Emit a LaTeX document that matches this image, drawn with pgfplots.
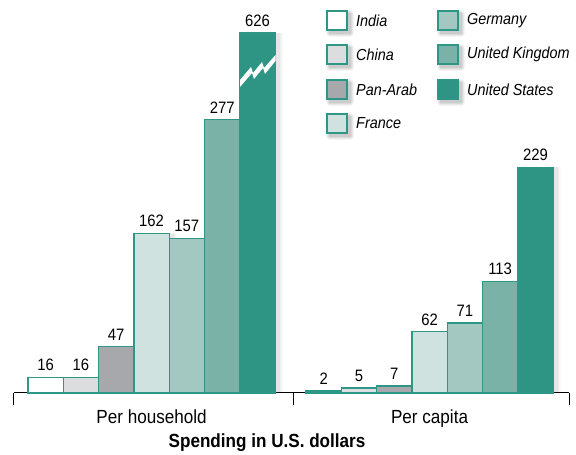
\documentclass[border=0pt]{standalone}
\usepackage{pgfplots}
\usepackage{pgfplotstable}
\pgfplotsset{compat=1.18}
\usepackage{fontspec}
\setmainfont{Liberation Sans}[FakeStretch=0.9]
\definecolor{tealb}{HTML}{2E9687}
\definecolor{cIndia}{HTML}{FFFFFF}
\definecolor{cChina}{HTML}{DCDDDE}
\definecolor{cArab}{HTML}{A7A8AC}
\definecolor{cFrance}{HTML}{D0E2DF}
\definecolor{cGermany}{HTML}{A2C8C1}
\definecolor{cUK}{HTML}{7BB2A8}
\definecolor{cUS}{HTML}{2E9585}
\pgfplotstableread{
x y
45.65 16
80.95 16
116.25 47
151.55 162
186.85 157
222.15 277
257.45 365.1
323.65 2
358.95 5
394.25 7
429.55 62
464.85 71
500.15 113
535.45 229
}\allbars
\newcommand{\legbox}[4]{% x y color text
  \foreach \s/\o in {4/0.04,3/0.05,2/0.06,1/0.07}{
    \fill[black,opacity=\o,rounded corners=\s pt] (#1+3-\s,#2+3-\s) rectangle (#1+23+\s,#2+22+\s);}
  \filldraw[fill=#3,draw=tealb,line width=1.2pt] (#1,#2) rectangle (#1+20,#2+19);
  \node[anchor=west,inner sep=0pt,font=\fontsize{16}{16}\selectfont\itshape] at (#1+29,#2+9.5) {#4};
}
\begin{document}
\begin{tikzpicture}
\begin{axis}[
  at={(0,0)}, anchor=south west,
  scale only axis, width=555pt, height=393pt,
  xmin=14, xmax=569, ymin=0, ymax=398.6,
  clip=false,
  axis x line*=bottom, axis y line=none,
  axis line style={black, line width=1pt},
  ybar, bar width=35.3, bar shift=0pt,
  xtick={14,293,569}, xticklabels={},
  tick align=outside, major tick length=12pt,
  tick style={black, line width=1pt},
  extra x ticks={151.55,429.55},
  extra x tick labels={Per household, Per capita},
  extra x tick style={major tick length=0pt,
    xticklabel style={anchor=base, yshift=-31pt, font=\fontsize{19}{19}\selectfont}},
  /pgf/number format/assume math mode=true,
]
% soft shadows
\addplot[forget plot, draw=none, fill=black, fill opacity=0.025, bar width=43, bar shift=4, nodes near coords={}] table[x=x,y=y] {\allbars};
\addplot[forget plot, draw=none, fill=black, fill opacity=0.035, bar width=40, bar shift=4, nodes near coords={}] table[x=x,y=y] {\allbars};
\addplot[forget plot, draw=none, fill=black, fill opacity=0.045, bar width=37, bar shift=4, nodes near coords={}] table[x=x,y=y] {\allbars};
\pgfplotsset{
  point meta=explicit,
  nodes near coords={\pgfmathprintnumber{\pgfplotspointmeta}},
  every node near coord/.append style={font=\fontsize{16.5}{16.5}\selectfont, inner sep=0pt, anchor=south, yshift=6pt, black},
}
\addplot[fill=cIndia, draw=tealb, line width=1.2pt] table[x=x,y=y,meta=lab] {
x y lab
45.65 16 16
323.65 2 2
};
\addplot[fill=cChina, draw=tealb, line width=1.2pt] table[x=x,y=y,meta=lab] {
x y lab
80.95 16 16
358.95 5 5
};
\addplot[fill=cArab, draw=tealb, line width=1.2pt] table[x=x,y=y,meta=lab] {
x y lab
116.25 47 47
394.25 7 7
};
\addplot[fill=cFrance, draw=tealb, line width=1.2pt] table[x=x,y=y,meta=lab] {
x y lab
151.55 162 162
429.55 62 62
};
\addplot[fill=cGermany, draw=tealb, line width=1.2pt] table[x=x,y=y,meta=lab] {
x y lab
186.85 157 157
464.85 71 71
};
\addplot[fill=cUK, draw=tealb, line width=1.2pt] table[x=x,y=y,meta=lab] {
x y lab
222.15 277 277
500.15 113 113
};
\addplot[fill=cUS, draw=tealb, line width=1.2pt] table[x=x,y=y,meta=lab] {
x y lab
257.45 365.1 626
535.45 229 229
};
\end{axis}
\begin{scope}[x=1pt,y=-1pt,shift={(-14pt,393pt)}]
  % axis break
  \fill[white] (240,80) -- (251,67) -- (253,73) -- (262,62) -- (264,68) -- (275.5,55)
    -- (275.5,61) -- (265,74) -- (263,68) -- (254,79) -- (252,73) -- (240,87) -- cycle;
  % x label
  \node[anchor=base,inner sep=0pt,font=\fontsize{19}{19}\selectfont\bfseries] at (267,448) {Spending in U.S. dollars};
  % legend
  \legbox{327}{11}{cIndia}{India}
  \legbox{327}{45}{cChina}{China}
  \legbox{327}{80}{cArab}{Pan-Arab}
  \legbox{327}{114}{cFrance}{France}
  \legbox{438}{11}{cGermany}{Germany}
  \legbox{438}{45}{cUK}{United Kingdom}
  \legbox{438}{80}{cUS}{United States}
  \path (0,0) rectangle (576,455);
\end{scope}
\end{tikzpicture}
\end{document}
